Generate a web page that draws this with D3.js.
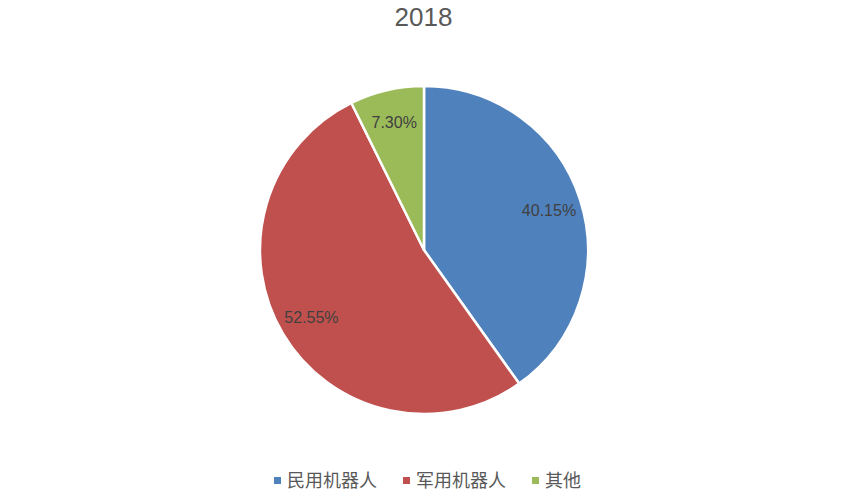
<!DOCTYPE html>
<html>
<head>
<meta charset="utf-8">
<script src="https://cdn.jsdelivr.net/npm/d3@7"></script>
<style>
  body { margin: 0; background: #fff; }
  svg { display: block; }
</style>
</head>
<body>
<script>
// DATA
var title = "2018";
var categories = ["民用机器人", "军用机器人", "其他"];
var values = [40.15, 52.55, 7.30];
var colors = ["#4F81BD", "#C0504D", "#9BBB59"];

var w = 847, h = 494;
var cx = 424, cy = 250, r = 164;

var svg = d3.select("body")
  .append("svg")
  .attr("width", w)
  .attr("height", h);

// title
svg.append("text")
  .attr("x", w / 2)
  .attr("y", 26)
  .attr("text-anchor", "middle")
  .attr("font-family", "Liberation Sans, Arial, sans-serif")
  .attr("font-size", "26px")
  .attr("fill", "#595959")
  .text(title);

var pie = d3.pie().sort(null).value(function(d) { return d; });
var arcs = pie(values);

var arc = d3.arc().innerRadius(0).outerRadius(r);
var labelArc = d3.arc().innerRadius(r * 0.8).outerRadius(r * 0.8);

var g = svg.append("g").attr("transform", "translate(" + cx + "," + cy + ")");

// slices
g.selectAll("path")
  .data(arcs)
  .enter()
  .append("path")
  .attr("d", arc)
  .attr("fill", function(d, i) { return colors[i]; })
  .attr("stroke", "white")
  .attr("stroke-width", 2.5)
  .attr("stroke-linejoin", "round");

// value labels
g.selectAll("text.lbl")
  .data(arcs)
  .enter()
  .append("text")
  .attr("class", "lbl")
  .attr("transform", function(d) { return "translate(" + labelArc.centroid(d) + ")"; })
  .attr("dy", "0.35em")
  .attr("text-anchor", "middle")
  .attr("font-family", "Liberation Sans, Arial, sans-serif")
  .attr("font-size", "16px")
  .attr("fill", "#404040")
  .text(function(d) { return d.data.toFixed(2) + "%"; });

// legend
var legendX = [274, 403, 532];
var legend = svg.selectAll("g.legend")
  .data(categories)
  .enter()
  .append("g")
  .attr("class", "legend")
  .attr("transform", function(d, i) { return "translate(" + legendX[i] + ",481)"; });

legend.append("rect")
  .attr("x", 0)
  .attr("y", -4)
  .attr("width", 7)
  .attr("height", 7)
  .attr("fill", function(d, i) { return colors[i]; });

legend.append("text")
  .attr("x", 13)
  .attr("y", 0)
  .attr("dy", "0.35em")
  .attr("font-family", "Noto Sans CJK SC, sans-serif")
  .attr("font-size", "18px")
  .attr("fill", "#595959")
  .text(function(d) { return d; });
</script>
</body>
</html>
